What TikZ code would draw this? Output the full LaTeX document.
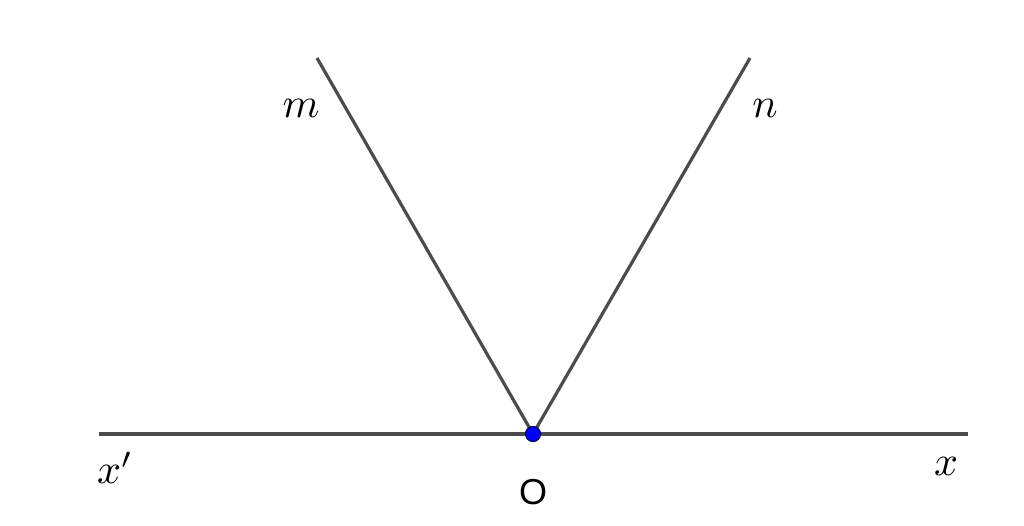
\documentclass[tikz,border=0pt]{standalone}
\usepackage{fontspec}
\newfontfamily\labelsans{Liberation Sans}
\begin{document}
\begin{tikzpicture}[x=1pt,y=-1pt,
  ray/.style={draw=black!70,line width=3.2pt},
  lbl/.style={inner sep=0pt,scale=4.2},
  ]
\useasboundingbox[fill=white] (0,0) rectangle (1024,525);
\coordinate (O) at (533,434);
\coordinate (xp) at (99,434);
\coordinate (x) at (968,434);
\coordinate (m) at (317,58);
\coordinate (n) at (750,58);
\draw[ray] (xp) -- (x);
\draw[ray] (O) -- (m);
\draw[ray] (O) -- (n);
\fill[blue,draw=blue!40!black,line width=1.2pt] (O) circle (7.5);
\node[lbl] (lm) at (301,108) {$m$};
\node[lbl] (ln) at (765,108) {$n$};
\node[lbl] (lxp) at (115,468) {$x'$};
\node[lbl] (lx) at (946,466) {$x$};
\node[inner sep=0pt,font=\labelsans\fontsize{36}{42}\selectfont] (lO) at (533,492) {O};
\end{tikzpicture}
\end{document}
